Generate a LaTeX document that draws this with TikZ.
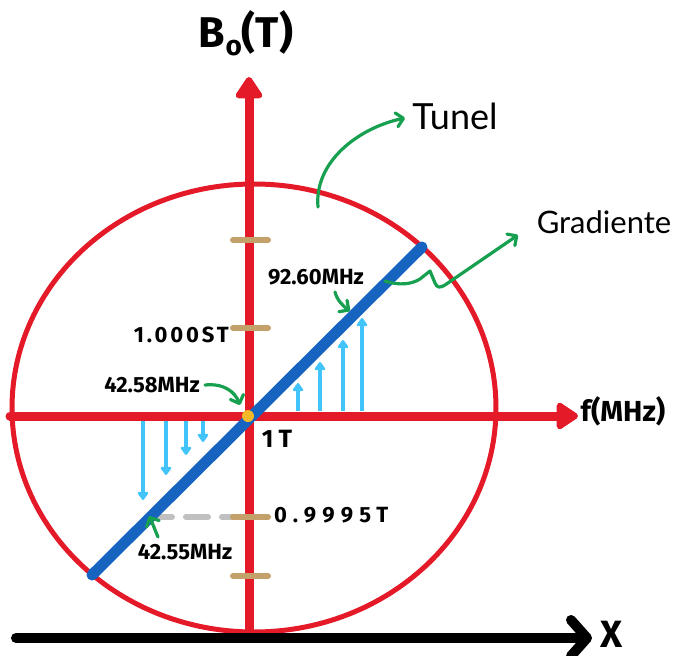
\documentclass[tikz,border=0pt]{standalone}
\usepackage{fontspec}
\setmainfont{Fira Sans}
\newfontfamily\handfont{Lato}
\usetikzlibrary{arrows.meta}
\definecolor{axred}{RGB}{228,26,40}
\definecolor{gblue}{RGB}{22,100,192}
\definecolor{lblue}{RGB}{66,196,250}
\definecolor{ticktan}{RGB}{196,160,106}
\definecolor{ggreen}{RGB}{22,160,80}
\definecolor{dashgray}{RGB}{192,192,192}
\definecolor{dotyel}{RGB}{245,184,40}
\tikzset{
  redaxis/.style={draw=axred, line width=9pt, line cap=round, -{Triangle[length=24pt,width=30pt,round]}},
  ringline/.style={draw=axred, line width=5pt},
  gradline/.style={draw=gblue, line width=11pt, line cap=round},
  tickmark/.style={draw=ticktan, line width=6pt, line cap=round},
  fieldarrow/.style={draw=lblue, line width=4pt, -{Triangle[length=9pt,width=12pt,round]}},
  callout/.style={draw=ggreen, line width=3.2pt, line cap=round, line join=round, -{Straight Barb[length=7pt,width=14pt,round]}},
  lab/.style={font=\bfseries\fontsize{22}{22}\selectfont, inner sep=0pt},
  hand/.style={font=\handfont\fontsize{36}{36}\selectfont, inner sep=0pt},
}
\begin{document}
\begin{tikzpicture}[x=1pt,y=-1pt]
\useasboundingbox (0,0) rectangle (673,656);
% ring
\draw[ringline] (254,408) ellipse [x radius=242, y radius=224];
% coordinates
\coordinate (vbot) at (249,632);
\coordinate (vtop) at (249,77);
\coordinate (hleft) at (10,416);
\coordinate (hright) at (578,416);
\coordinate (xleft) at (16,638);
\coordinate (xright) at (592,638);
% axes
\draw[redaxis] (vbot) -- (vtop);
\draw[redaxis] (hleft) -- (hright);
\draw[line width=10pt, line cap=round, -{Straight Barb[length=16pt,width=36pt,round]}] (xleft) -- (xright);
% ticks
\coordinate (t1a) at (233,240); \coordinate (t1b) at (268,240);
\coordinate (t2a) at (233,328); \coordinate (t2b) at (268,328);
\coordinate (t3a) at (233,517); \coordinate (t3b) at (268,517);
\coordinate (t4a) at (233,576); \coordinate (t4b) at (268,576);
\coordinate (dstart) at (150,517);
\draw[draw=dashgray, line width=6pt, line cap=round, dash pattern=on 22pt off 14pt] (dstart) -- (t3a);
\draw[tickmark] (t1a) -- (t1b);
\draw[tickmark] (t2a) -- (t2b);
\draw[tickmark] (t3a) -- (t3b);
\draw[tickmark] (t4a) -- (t4b);
% gradient line
\coordinate (glow) at (92,575);
\coordinate (ghigh) at (422,247);
\draw[gradline] (glow) -- (ghigh);
\node[circle, fill=dotyel, minimum size=12pt, inner sep=0pt] (origin) at (248,416) {};
% field arrows
\foreach \x/\t [count=\i] in {298/383,320/362,343/340,362/318}{
  \coordinate (ub\i) at (\x,411); \coordinate (ut\i) at (\x,\t);
  \draw[fieldarrow] (ub\i) -- (ut\i);
}
\foreach \x/\t [count=\i] in {143/500,166/475,186/455,203/442}{
  \coordinate (db\i) at (\x,421); \coordinate (dt\i) at (\x,\t);
  \draw[fieldarrow] (db\i) -- (dt\i);
}
% labels
\node[font=\bfseries\fontsize{43}{43}\selectfont, inner sep=0pt] (btitle) at (246,33) {B\raisebox{-8pt}{\fontsize{28}{28}\selectfont o}(T)};
\node[font=\bfseries\fontsize{29}{29}\selectfont, inner sep=0pt] (flabel) at (623,411) {f(MHz)};
\node[font=\bfseries\fontsize{38}{38}\selectfont, inner sep=0pt] (xlabel) at (612,634) {X};
\node[hand] (tunel) at (455,116) {Tunel};
\node[hand, font=\handfont\fontsize{31}{31}\selectfont] (grad) at (604,222) {Gradiente};
\node[lab, anchor=east] (l1000) at (229,335) {\addfontfeatures{LetterSpace=13}1.000ST};
\node[lab] (l4258) at (152,385) {42.58MHz};
\node[lab, font=\bfseries\fontsize{25}{25}\selectfont] (l1t) at (277,439) {\addfontfeatures{LetterSpace=20}1T};
\node[lab, anchor=west] (l9995) at (274,515) {\addfontfeatures{LetterSpace=28}0.9995T};
\node[lab] (l4255) at (185,552) {42.55MHz};
\node[lab] (l9260) at (316,277) {92.60MHz};
% callouts
\coordinate (tunstart) at (318,207);
\coordinate (tunend) at (405,118);
\draw[callout] (tunstart) .. controls (314,162) and (358,128) .. (tunend);
\coordinate (gs) at (385,281);
\coordinate (gend) at (518,235);
\draw[callout] (gs) .. controls (400,286) and (412,284) .. (420,279) -- (430,271) -- (435,283) .. controls (437,288) and (440,288) .. (445,285) -- (gend);
\coordinate (a1s) at (205,385);
\coordinate (a1e) at (240,405);
\draw[callout] (a1s) .. controls (224,383) and (235,392) .. (a1e);
\coordinate (a2s) at (335,292);
\coordinate (a2e) at (350,311);
\draw[callout] (a2s) .. controls (337,300) and (343,306) .. (a2e);
\coordinate (a3s) at (158,537);
\coordinate (a3e) at (149,516);
\draw[callout] (a3s) .. controls (155,530) and (152,522) .. (a3e);
\end{tikzpicture}
\end{document}
